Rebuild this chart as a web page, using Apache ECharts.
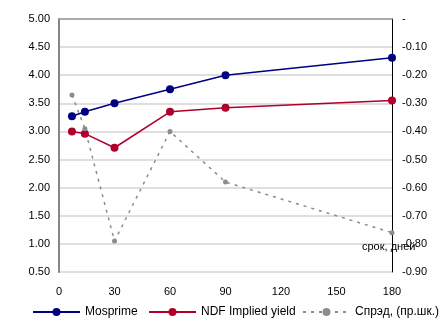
<!DOCTYPE html>
<html><head><meta charset="utf-8">
<script src="https://cdn.jsdelivr.net/npm/echarts@6/dist/echarts.min.js"></script>
<style>html,body{margin:0;padding:0;background:#fff}#c{width:441px;height:328px}</style>
</head><body><div id="c"></div>
<script>
var days = [7, 14, 30, 60, 90, 180];
var mosprime = [3.27, 3.35, 3.50, 3.75, 4.00, 4.31];
var ndf = [3.00, 2.96, 2.71, 3.35, 3.42, 3.55];
var spread = [-0.27, -0.39, -0.79, -0.40, -0.58, -0.76];
var seriesNames = ['Mosprime', 'NDF Implied yield', 'Спрэд, (пр.шк.)'];
var xName = 'срок, дней';

function pairs(xs, ys){ return xs.map(function(x,i){ return [x, ys[i]]; }); }
var font = 'Liberation Sans, Arial, sans-serif';
var legendLefts = [32, 148, 302];
var chart = echarts.init(document.getElementById('c'));
chart.setOption({
  animation: false,
  textStyle: {fontFamily: font},
  grid: {left: 59, right: 49, top: 19, bottom: 56},
  legend: seriesNames.map(function(n, i){
    return {
      bottom: 10, left: legendLefts[i], padding: 0, itemWidth: 47, itemHeight: 10,
      textStyle: {fontFamily: font, fontSize: 12, color: '#000'},
      data: [n]
    };
  }),
  xAxis: {
    type: 'value', min: 0, max: 180, interval: 30,
    axisLine: {show: true, lineStyle: {color: '#999', width: 1.5}},
    axisTick: {show: false}, splitLine: {show: false},
    axisLabel: {fontFamily: font, fontSize: 11, color: '#000', margin: 14}
  },
  yAxis: [{
    type: 'value', min: 0.5, max: 5, interval: 0.5,
    axisLine: {show: true, lineStyle: {color: '#868686', width: 2}},
    axisTick: {show: false},
    splitLine: {lineStyle: {color: '#d4d4d4', width: 1.5}},
    axisLabel: {fontFamily: font, fontSize: 11, color: '#000', margin: 9,
      formatter: function(v){ return v.toFixed(2); }}
  }, {
    type: 'value', min: -0.9, max: 0, interval: 0.1, position: 'right',
    axisLine: {show: true, lineStyle: {color: '#000', width: 1}},
    axisTick: {show: false}, splitLine: {show: false},
    axisLabel: {fontFamily: font, fontSize: 11, color: '#000', margin: 10,
      formatter: function(v){ return Math.abs(v) < 1e-9 ? '-' : v.toFixed(2); }}
  }],
  graphic: [{
    type: 'text', left: 362, top: 241, z: 100,
    style: {text: xName, font: '11px ' + font, fill: '#000'}
  }],
  series: [{
    name: seriesNames[0], type: 'line', data: pairs(days, mosprime),
    symbol: 'circle', symbolSize: 8, color: '#000080',
    lineStyle: {width: 1.5, color: '#000080'}, itemStyle: {color: '#000080'}
  }, {
    name: seriesNames[1], type: 'line', data: pairs(days, ndf),
    symbol: 'circle', symbolSize: 8, color: '#b0002a',
    lineStyle: {width: 1.5, color: '#b0002a'}, itemStyle: {color: '#b0002a'}
  }, {
    name: seriesNames[2], type: 'line', yAxisIndex: 1, data: pairs(days, spread),
    symbol: 'circle', symbolSize: 5, color: '#8c8c8c',
    lineStyle: {width: 1.5, color: '#8c8c8c', type: [3, 5]}, itemStyle: {color: '#8c8c8c'}
  }]
});
</script></body></html>
